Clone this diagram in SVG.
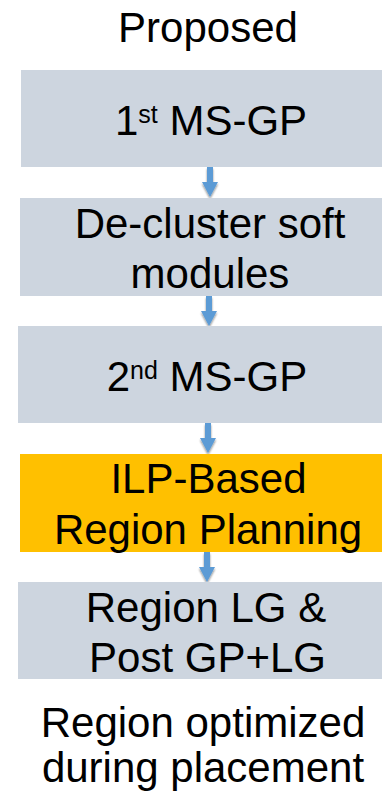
<svg xmlns="http://www.w3.org/2000/svg" width="382" height="795" viewBox="0 0 382 795">
<defs>
<style>
text{font-family:"Liberation Sans",Arial,sans-serif;font-size:42px;fill:#000;text-anchor:middle}
.box{fill:#CDD5DF}
.hl{fill:#FFC000}
.arr{fill:#5B9BD5}
.sup{font-size:25px}
</style>
<filter id="sh" x="-50%" y="-50%" width="200%" height="200%">
<feGaussianBlur in="SourceAlpha" stdDeviation="1.2"/>
<feOffset dx="0" dy="1.5" result="b"/>
<feComponentTransfer><feFuncA type="linear" slope="0.45"/></feComponentTransfer>
<feMerge><feMergeNode/><feMergeNode in="SourceGraphic"/></feMerge>
</filter>
<path id="arrow" d="M-3,0 H3 V15 H8 L0,30 L-8,15 H-3 Z"/>
</defs>
<rect width="382" height="795" fill="#fff"/>
<g id="title"><text x="208" y="42">Proposed</text></g>
<g id="connectors" filter="url(#sh)">
<use href="#arrow" class="arr" x="210" y="167"/>
<use href="#arrow" class="arr" x="209" y="296"/>
<use href="#arrow" class="arr" x="208" y="423"/>
<use href="#arrow" class="arr" x="207" y="552"/>
</g>
<g id="n1"><rect class="box" x="21" y="70" width="361" height="97"/>
<text x="211" y="135">1<tspan class="sup" dy="-12">st</tspan><tspan dy="12"> MS-GP</tspan></text></g>
<g id="n2"><rect class="box" x="20" y="198" width="362" height="98"/>
<text x="210" y="238">De-cluster soft</text><text x="210" y="288">modules</text></g>
<g id="n3"><rect class="box" x="18" y="326" width="364" height="97"/>
<text x="207" y="391">2<tspan class="sup" dy="-12">nd</tspan><tspan dy="12"> MS-GP</tspan></text></g>
<g id="n4"><rect class="hl" x="20" y="454" width="362" height="98"/>
<text x="208.5" y="493">ILP-Based</text><text x="208" y="544">Region Planning</text></g>
<g id="n5"><rect class="box" x="18" y="582" width="364" height="97"/>
<text x="206" y="622">Region LG &amp;</text><text x="207.5" y="672">Post GP+LG</text></g>
<g id="caption"><text x="203" y="737">Region optimized</text><text x="203" y="782">during placement</text></g>
</svg>
